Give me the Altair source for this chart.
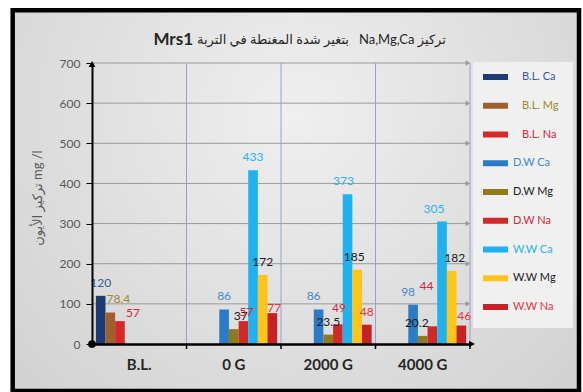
import altair as alt
import pandas as pd

# ---- data -------------------------------------------------------------
categories = ["B.L.", "0 G", "2000 G", "4000 G"]
series = ["B.L. Ca", "B.L. Mg", "B.L. Na",
          "D.W Ca", "D.W Mg", "D.W Na",
          "W.W Ca", "W.W Mg", "W.W Na"]

# one value per category (None = series not measured in that group)
bl_ca = [120, None, None, None]
bl_mg = [78.4, None, None, None]
bl_na = [57, None, None, None]
dw_ca = [None, 86, 86, 98]
dw_mg = [None, 37, 23.5, 20.2]
dw_na = [None, 57, 49, 44]
ww_ca = [None, 433, 373, 305]
ww_mg = [None, 172, 185, 182]
ww_na = [None, 77, 48, 46]

y_ticks = [0, 100, 200, 300, 400, 500, 600, 700]
grid_values = y_ticks[1:]

# right-to-left embedding keeps the Arabic word order; NBSPs keep the double gap
title_main = "\u202bتركيز Na,Mg,Ca\u00a0\u00a0 بتغير شدة المغنطة في التربة\u202c"
title_code = "Mrs1"
y_title = "تركيز الأيون mg /l"

# ---- styles -----------------------------------------------------------
bar_colors = ["#1f3b73", "#a0602c", "#d42a2a",
              "#2a7cc7", "#8f7a1e", "#cf2a2a",
              "#1fb2ee", "#ffc41a", "#c62226"]
text_colors = ["#3a5a95", "#9a8a2a", "#d0283a",
               "#3e8ad0", "#1a1a1a", "#d0283a",
               "#27b5ea", "#1a1a1a", "#e8323e"]
FONT = "Lato, DejaVu Sans"

# hand placement of a few value labels (pixels, keyed by category/series)
label_nudge = {
    ("B.L.", "B.L. Mg"): (8, -1),
    ("B.L.", "B.L. Na"): (13, 5),
    ("0 G", "D.W Mg"): (7, 0),
    ("0 G", "D.W Na"): (3, 4),
    ("0 G", "W.W Na"): (2, 8),
    ("2000 G", "D.W Ca"): (-5, 0),
    ("2000 G", "D.W Na"): (1, -3),
    ("2000 G", "W.W Ca"): (-4, 0),
    ("2000 G", "W.W Mg"): (-3, 0),
    ("4000 G", "D.W Ca"): (-5, 0),
    ("4000 G", "D.W Mg"): (-6, 0),
    ("4000 G", "D.W Na"): (-6, -27),
    ("4000 G", "W.W Ca"): (-8, 0),
    ("4000 G", "W.W Mg"): (3, 0),
    ("4000 G", "W.W Na"): (3, 3),
}

W, H = 378, 281

values = [bl_ca, bl_mg, bl_na, dw_ca, dw_mg, dw_na, ww_ca, ww_mg, ww_na]
rows = []
for s, vals in zip(series, values):
    for c, v in zip(categories, vals):
        if v is not None:
            ndx, ndy = label_nudge.get((c, s), (0, 0))
            rows.append({"category": c, "series": s, "value": v,
                         "ndx": ndx, "ndy": ndy})
df = pd.DataFrame(rows)
cat_df = pd.DataFrame({"category": categories})
grid_df = pd.DataFrame({"value": grid_values})
legend_df = pd.DataFrame({"series": series})
one = pd.DataFrame({"k": [0]})

y_scale = alt.Scale(domain=[0, 700], nice=False, zero=True)
x_scale = alt.Scale(domain=categories, paddingInner=0, paddingOuter=0)
fill_scale = alt.Scale(domain=series, range=bar_colors)
text_scale = alt.Scale(domain=series, range=text_colors)

x_axis = alt.Axis(title=None, domainColor="black", domainWidth=2.5, tickSize=0,
                  labelFont=FONT, labelFontSize=15, labelFontWeight="bold",
                  labelColor="#262626", labelPadding=13, labelAngle=0, zindex=1)
y_axis = alt.Axis(title=None, values=y_ticks, domainColor="black", domainWidth=2,
                  tickColor="black", tickSize=6, labelFont=FONT, labelFontSize=12,
                  labelColor="#595959", labelPadding=6, grid=False, zindex=1)

x_enc = alt.X("category:N", sort=categories, scale=x_scale, axis=x_axis)
x_edge = alt.X("category:N", sort=categories, scale=x_scale, axis=x_axis,
               bandPosition=1)
xoff = alt.XOffset("series:N", sort=series,
                   scale=alt.Scale(domain=series, paddingInner=0, paddingOuter=0.4))

# ---- background frame -------------------------------------------------
frame = alt.Chart(one).mark_rect(
    fill=alt.Gradient(gradient="radial",
                      stops=[alt.GradientStop(color="#efefef", offset=0),
                             alt.GradientStop(color="#cfcfcf", offset=1)],
                      x1=0.5, y1=0.35, x2=0.5, y2=0.35, r1=0, r2=0.75),
    stroke="black", strokeWidth=4.5
).encode(x=alt.value(-79.3), x2=alt.value(487), y=alt.value(-52.7), y2=alt.value(328))

legend_box = alt.Chart(one).mark_rect(fill="#f0f0f0").encode(
    x=alt.value(381), x2=alt.value(481), y=alt.value(-1), y2=alt.value(265))

# ---- grid & separators ------------------------------------------------
grid = alt.Chart(grid_df).mark_rule(color="#9a9a9a", strokeWidth=1).encode(
    x=alt.value(0), x2=alt.value(376),
    y=alt.Y("value:Q", scale=y_scale, axis=None))
grid_arrows = alt.Chart(grid_df).mark_point(
    shape="triangle-right", filled=True, size=30, color="#9a9a9a", opacity=1
).encode(x=alt.value(376), y=alt.Y("value:Q", scale=y_scale, axis=None))

separators = alt.Chart(cat_df).mark_rule(color="#8ea6cf", strokeWidth=1).encode(
    x=x_edge, y=alt.value(0), y2=alt.value(H))
x_ticks = alt.Chart(cat_df).mark_rule(color="black", strokeWidth=1.5).encode(
    x=x_edge, y=alt.value(H), y2=alt.value(H + 5))

# ---- bars & value labels ---------------------------------------------
bars = alt.Chart(df).mark_bar().encode(
    x=x_enc, xOffset=xoff,
    y=alt.Y("value:Q", scale=y_scale, axis=y_axis),
    fill=alt.Fill("series:N", scale=fill_scale, legend=None))

labels = alt.Chart(df).mark_text(
    baseline="bottom", font=FONT, fontSize=12,
    dx=alt.ExprRef("datum.ndx"), dy=alt.ExprRef("datum.ndy - 6")
).encode(
    x=x_enc, xOffset=xoff,
    y=alt.Y("value:Q", scale=y_scale, axis=None),
    text=alt.Text("value:Q"),
    color=alt.Color("series:N", scale=text_scale, legend=None))

# ---- axis decorations --------------------------------------------------
y_arrow = alt.Chart(one).mark_point(shape="triangle-up", filled=True, size=45,
                                    color="black", opacity=1).encode(
    x=alt.value(0), y=alt.value(1))
x_arrow = alt.Chart(one).mark_point(shape="triangle-right", filled=True, size=45,
                                    color="black", opacity=1).encode(
    x=alt.value(W + 2), y=alt.value(H))
origin = alt.Chart(one).mark_point(shape="circle", filled=True, size=60,
                                   color="black", opacity=1).encode(
    x=alt.value(0), y=alt.value(H))

# ---- titles ------------------------------------------------------------
t_code = alt.Chart(one).mark_text(
    text=title_code, font=FONT, fontSize=17, fontWeight="bold",
    color="#262626", align="right", baseline="middle"
).encode(x=alt.value(101), y=alt.value(-23))
t_main = alt.Chart(one).mark_text(
    text=title_main, font=FONT, fontSize=13, color="#262626",
    align="left", baseline="middle"
).encode(x=alt.value(105), y=alt.value(-23))
t_y = alt.Chart(one).mark_text(
    text=y_title, font=FONT, fontSize=13, color="#595959", angle=270,
    align="center", baseline="middle"
).encode(x=alt.value(-54), y=alt.value(135))

# ---- legend ------------------------------------------------------------
leg_y = alt.Y("series:O", sort=series,
              scale=alt.Scale(type="point", domain=series, range=[14, 244], padding=0),
              axis=None)
leg_swatch = alt.Chart(legend_df).mark_rule(strokeWidth=6).encode(
    x=alt.value(391), x2=alt.value(416), y=leg_y,
    stroke=alt.Stroke("series:N", scale=fill_scale, legend=None))
leg_text = alt.Chart(legend_df).mark_text(
    align="left", baseline="middle", font=FONT, fontSize=11,
    dx=alt.ExprRef("indexof(datum.series, 'B.L.') == 0 ? 9 : 0")
).encode(
    x=alt.value(421), y=leg_y, text="series:N",
    color=alt.Color("series:N", scale=text_scale, legend=None))

chart = alt.layer(
    frame, legend_box, grid, grid_arrows, separators, bars, labels,
    x_ticks, y_arrow, x_arrow, origin, t_code, t_main, t_y, leg_swatch, leg_text
).resolve_scale(y="independent").properties(
    width=W, height=H,
    padding={"left": 92, "top": 63, "right": 113, "bottom": 48},
    autosize=alt.AutoSizeParams(type="none"),
    background="white",
).configure_view(stroke=None)

chart.save("out.html", embed_options={"renderer": "svg", "actions": False})
